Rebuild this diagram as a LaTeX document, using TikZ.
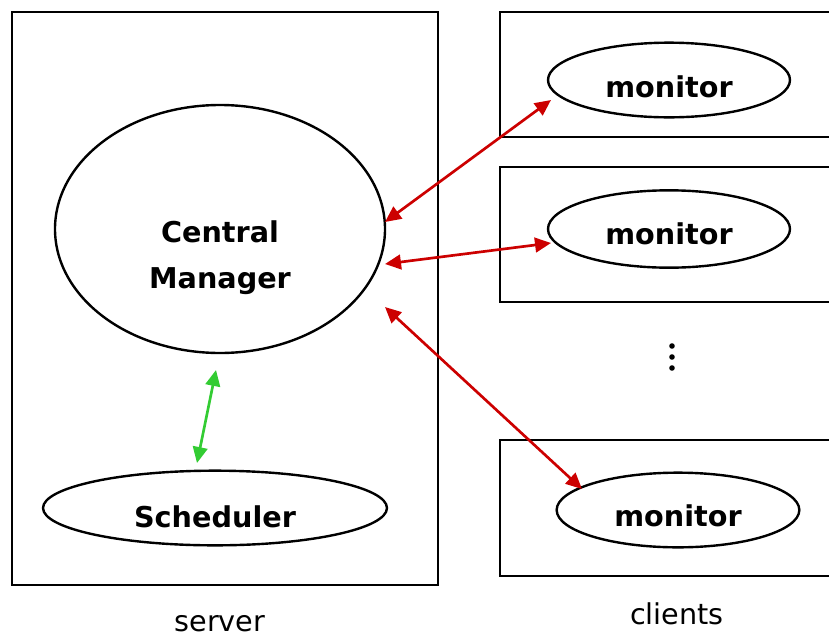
\documentclass[tikz,border=0pt]{standalone}
\usepackage{fontspec}
\setmainfont{DejaVu Sans}
\usetikzlibrary{shapes.geometric,arrows.meta}
\definecolor{linkred}{HTML}{CC0000}
\definecolor{linkgreen}{HTML}{33CC33}
\tikzset{
  frame/.style={draw=black, line width=2pt},
  oval/.style={ellipse, draw=black, line width=1.8pt, inner sep=0pt},
  lbl/.style={font=\fontsize{21.5}{26}\selectfont\bfseries, anchor=base, inner sep=0pt},
  captiontext/.style={font=\fontsize{21.5}{26}\selectfont, anchor=base, inner sep=0pt},
  redlink/.style={draw=linkred, line width=2pt, {Triangle[length=12pt,width=11pt]}-{Triangle[length=12pt,width=11pt]}},
  greenlink/.style={draw=linkgreen, line width=2pt, {Triangle[length=12pt,width=11pt]}-{Triangle[length=12pt,width=11pt]}},
  dotmark/.style={circle, fill=black, inner sep=0pt, minimum size=4.2pt}
}
\begin{document}
\begin{tikzpicture}[x=0.75pt, y=-0.75pt]
\useasboundingbox (0,0) rectangle (829,636);
\begin{scope}
\clip (0,0) rectangle (829,636);
% server frame and client frames (the client frames run off the right edge)
\draw[frame] (12,12) rectangle (438,585);
\draw[frame] (500,12) rectangle (845,137);
\draw[frame] (500,167) rectangle (845,302);
\draw[frame] (500,440) rectangle (845,576);
\end{scope}

% ellipses
\node[oval, minimum width=247.5pt, minimum height=186pt] (cm) at (220,229) {};
\node[oval, minimum width=258pt, minimum height=56pt] (sched) at (215,508) {};
\node[oval, minimum width=181.5pt, minimum height=56pt] (mon1) at (669,80) {};
\node[oval, minimum width=181.5pt, minimum height=58pt] (mon2) at (669,229) {};
\node[oval, minimum width=182pt, minimum height=56pt] (mon3) at (678,510) {};

% texts
\node[lbl] (cmtop) at (220,242) {Central};
\node[lbl] (cmbot) at (220,288) {Manager};
\node[lbl] (schedt) at (215,527) {Scheduler};
\node[lbl] (m1t) at (669,97) {monitor};
\node[lbl] (m2t) at (669,244) {monitor};
\node[lbl] (m3t) at (678,526) {monitor};
\node[captiontext] (srv) at (220,631) {server};
\node[captiontext] (cli) at (677,624) {clients};

% vertical ellipsis between client frames
\node[dotmark] (d1) at (672,346) {};
\node[dotmark] (d2) at (672,357) {};
\node[dotmark] (d3) at (672,368) {};

% arrow end points
\coordinate (c1) at (385,222);
\coordinate (c2) at (385,264);
\coordinate (c3) at (385,307);
\coordinate (p1) at (551,100);
\coordinate (p2) at (551,243);
\coordinate (p3) at (582,489);
\coordinate (g1) at (216,370);
\coordinate (g2) at (197,463);

\draw[redlink] (c1) -- (p1);
\draw[redlink] (c2) -- (p2);
\draw[redlink] (c3) -- (p3);
\draw[greenlink] (g1) -- (g2);
\end{tikzpicture}
\end{document}
